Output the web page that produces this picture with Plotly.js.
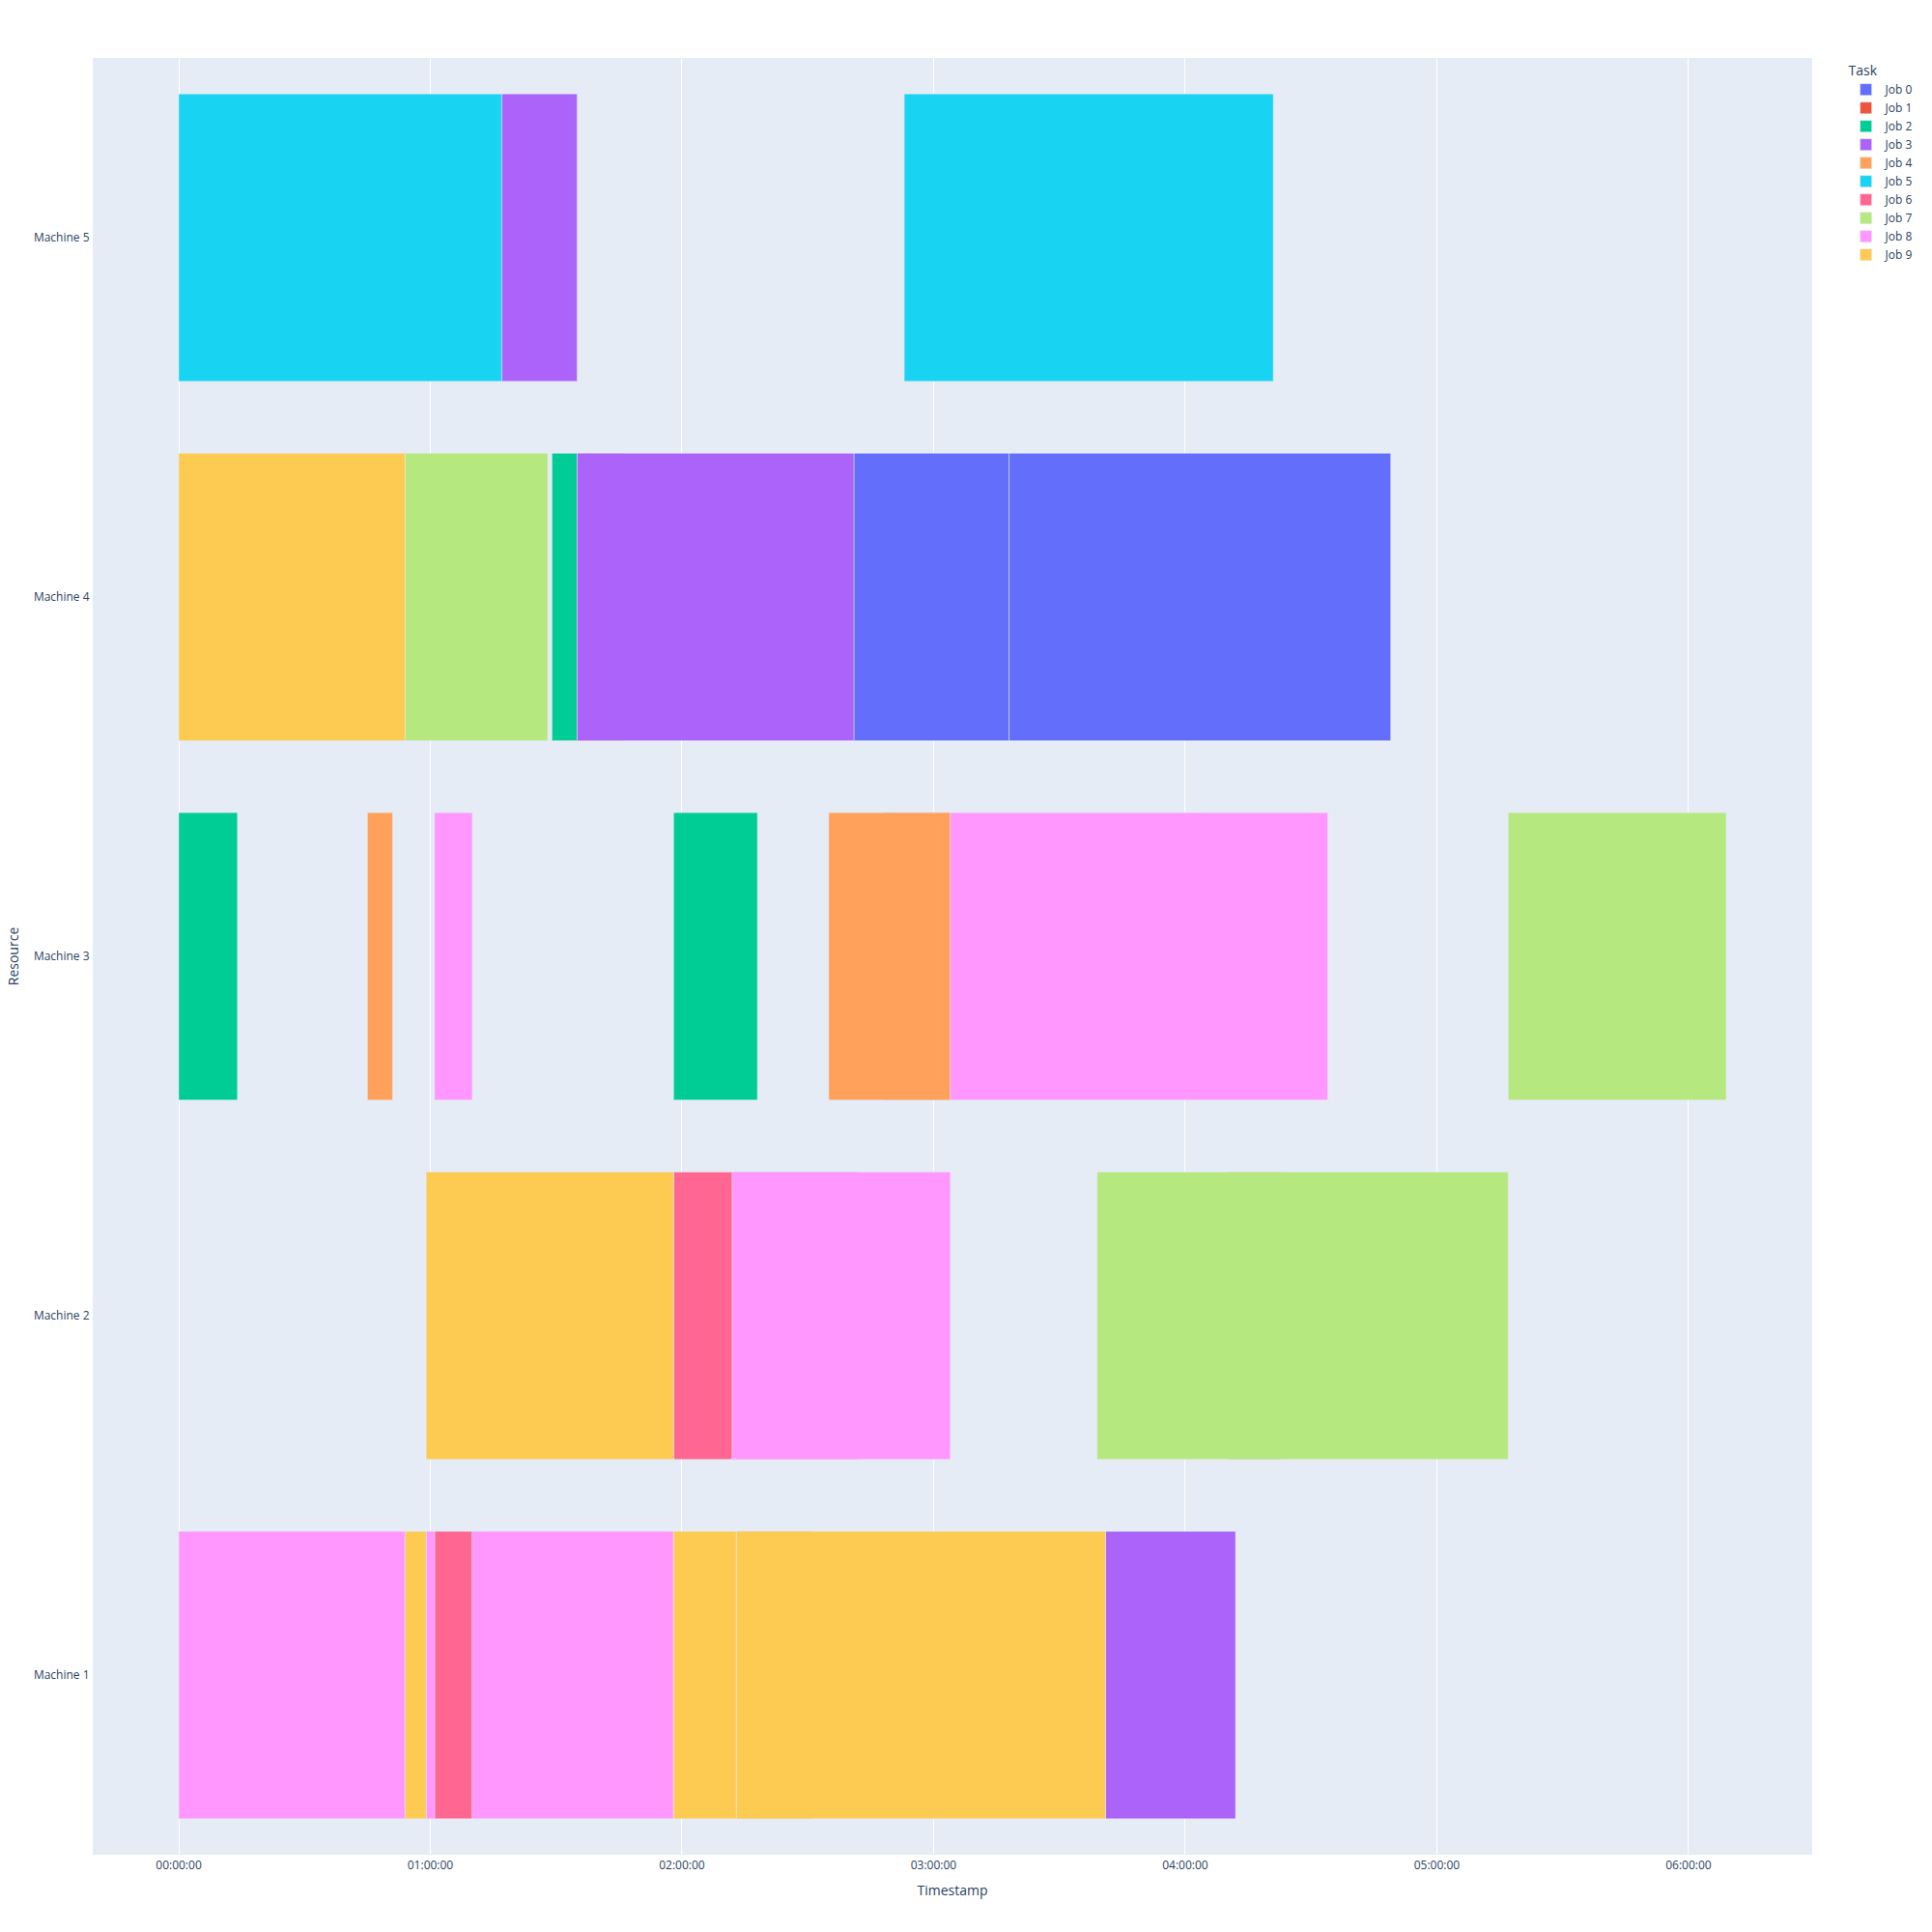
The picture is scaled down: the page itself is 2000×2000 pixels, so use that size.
<!DOCTYPE html>
<html>
<head>
<meta charset="utf-8">
<script src="https://cdn.plot.ly/plotly-3.0.1.min.js"></script>
<style>html,body{margin:0;padding:0;background:#fff;}</style>
</head>
<body>
<div id="chart" style="width:2000px;height:2000px;"></div>
<script>
// Legend order / categories
const jobNames = ["Job 0","Job 1","Job 2","Job 3","Job 4","Job 5","Job 6","Job 7","Job 8","Job 9"];
const resources = ["Machine 1","Machine 2","Machine 3","Machine 4","Machine 5"];
const jobColors = ["#636efa","#EF553B","#00cc96","#ab63fa","#FFA15A","#19d3f3","#FF6692","#B6E880","#FF97FF","#FECB52"];

// Tasks (start / finish in minutes after 00:00:00)
const taskJob = [
  "Job 5","Job 3","Job 5",
  "Job 9","Job 7","Job 2","Job 3","Job 0","Job 0",
  "Job 2","Job 4","Job 8","Job 2","Job 4","Job 8","Job 7",
  "Job 9","Job 6","Job 8","Job 7",
  "Job 8","Job 9","Job 8","Job 6","Job 8","Job 9","Job 9","Job 3",
  "Job 1","Job 1","Job 1","Job 1","Job 1"
];
const taskResource = [
  "Machine 5","Machine 5","Machine 5",
  "Machine 4","Machine 4","Machine 4","Machine 4","Machine 4","Machine 4",
  "Machine 3","Machine 3","Machine 3","Machine 3","Machine 3","Machine 3","Machine 3",
  "Machine 2","Machine 2","Machine 2","Machine 2",
  "Machine 1","Machine 1","Machine 1","Machine 1","Machine 1","Machine 1","Machine 1","Machine 1",
  "Machine 3","Machine 2","Machine 1","Machine 4","Machine 2"
];
const taskStart = [
  0, 77, 173,
  0, 54, 89, 95, 161, 198,
  0, 45, 61, 118, 155, 184, 317,
  59, 118, 132, 219,
  0, 54, 59, 61, 70, 118, 133, 221,
  168, 132, 133, 95, 250
];
const taskFinish = [
  77, 95, 261,
  54, 88, 95, 161, 198, 289,
  14, 51, 70, 138, 184, 274, 369,
  118, 132, 184, 317,
  54, 59, 61, 70, 118, 133, 221, 252,
  184, 162, 151, 106, 263
];

const xTickFormat = "%H:%M:%S";
const BASE_MS = Date.UTC(2024, 0, 1, 0, 0, 0);
function toDate(min) {
  return new Date(BASE_MS + min * 60000).toISOString().replace("T", " ").slice(0, 19);
}

const traces = jobNames.map((job, j) => {
  const idx = [];
  taskJob.forEach((t, i) => { if (t === job) idx.push(i); });
  return {
    type: "bar",
    orientation: "h",
    name: job,
    legendgroup: job,
    showlegend: true,
    y: idx.map(i => taskResource[i]),
    base: idx.map(i => toDate(taskStart[i])),
    x: idx.map(i => (taskFinish[i] - taskStart[i]) * 60000),
    marker: { color: jobColors[j], line: { color: "#E5ECF6", width: 0.5 } },
    hovertemplate: "Task=" + job + "<br>Start=%{base}<br>Resource=%{y}<extra></extra>"
  };
});

const layout = {
  width: 2000,
  height: 2000,
  barmode: "overlay",
  paper_bgcolor: "#ffffff",
  plot_bgcolor: "#E5ECF6",
  font: { family: '"Open Sans", verdana, arial, sans-serif', size: 12, color: "#2a3f5f" },
  margin: { l: 96, r: 124, t: 60, b: 80, pad: 0 },
  xaxis: {
    type: "date",
    title: { text: "Timestamp", font: { size: 14 }, standoff: 13 },
    tickformat: xTickFormat,
    tick0: toDate(0),
    dtick: 3600000,
    gridcolor: "white",
    linecolor: "white",
    zerolinecolor: "white",
    ticks: "",
    automargin: true
  },
  yaxis: {
    type: "category",
    title: { text: "Resource", font: { size: 14 }, standoff: 12 },
    categoryorder: "array",
    categoryarray: resources,
    showgrid: false,
    gridcolor: "white",
    linecolor: "white",
    ticks: "",
    automargin: true
  },
  legend: {
    title: { text: "Task" },
    tracegroupgap: 0,
    traceorder: "normal"
  }
};

Plotly.newPlot("chart", traces, layout, { displayModeBar: false, staticPlot: true });
</script>
</body>
</html>
